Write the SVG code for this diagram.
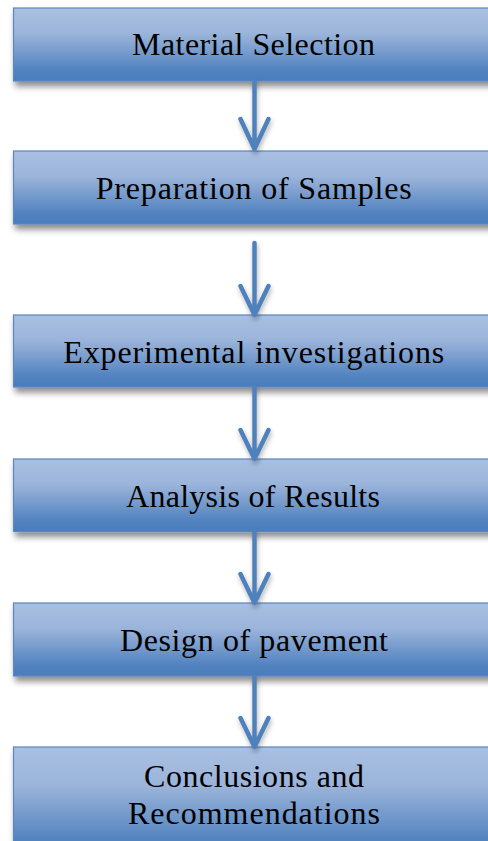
<svg xmlns="http://www.w3.org/2000/svg" width="488" height="841" viewBox="0 0 488 841">
  <defs>
    <linearGradient id="boxFill" x1="0" y1="0" x2="0" y2="1">
      <stop offset="0" stop-color="#a9c0e1"/>
      <stop offset="0.35" stop-color="#9bb4da"/>
      <stop offset="0.85" stop-color="#5283c0"/>
      <stop offset="1" stop-color="#4a7dbb"/>
    </linearGradient>
    <filter id="boxShadow" x="-5%" y="-20%" width="110%" height="150%">
      <feGaussianBlur in="SourceAlpha" stdDeviation="3"/>
      <feOffset dx="2" dy="5" result="blur"/>
      <feComponentTransfer in="blur" result="soft">
        <feFuncA type="linear" slope="0.45"/>
      </feComponentTransfer>
      <feMerge>
        <feMergeNode in="soft"/>
        <feMergeNode in="SourceGraphic"/>
      </feMerge>
    </filter>
    <filter id="arrowShadow" x="-50%" y="-20%" width="200%" height="150%">
      <feGaussianBlur in="SourceAlpha" stdDeviation="2.5"/>
      <feOffset dx="1" dy="3" result="blur"/>
      <feComponentTransfer in="blur" result="soft">
        <feFuncA type="linear" slope="0.3"/>
      </feComponentTransfer>
      <feMerge>
        <feMergeNode in="soft"/>
        <feMergeNode in="SourceGraphic"/>
      </feMerge>
    </filter>
  </defs>
  <style>
    .box { fill: url(#boxFill); stroke: #5a86c1; stroke-width: 1.2; filter: url(#boxShadow); }
    .label { font-family: "Liberation Serif", "DejaVu Serif", serif; font-size: 32px; fill: #000000; text-anchor: middle; }
    .flow { fill: none; stroke: #4f81bd; stroke-width: 4.5; stroke-linecap: round; stroke-linejoin: round; filter: url(#arrowShadow); }
  </style>

  <rect width="488" height="841" fill="#ffffff"/>

  <g id="material-selection">
    <rect class="box" x="13.5" y="8" width="482" height="73"/>
    <text class="label" x="253.5" y="55" textLength="243">Material Selection</text>
  </g>

  <g id="preparation-of-samples">
    <rect class="box" x="13.5" y="151" width="482" height="73"/>
    <text class="label" x="253.7" y="198.5" textLength="316">Preparation of Samples</text>
  </g>

  <g id="experimental-investigations">
    <rect class="box" x="13.5" y="315" width="482" height="72"/>
    <text class="label" x="253.8" y="362.5" textLength="381">Experimental investigations</text>
  </g>

  <g id="analysis-of-results">
    <rect class="box" x="13.5" y="459" width="482" height="72.5"/>
    <text class="label" x="253" y="506.5" textLength="254">Analysis of Results</text>
  </g>

  <g id="design-of-pavement">
    <rect class="box" x="13.5" y="603" width="482" height="73"/>
    <text class="label" x="254" y="651" textLength="268">Design of pavement</text>
  </g>

  <g id="conclusions-and-recommendations">
    <rect class="box" x="13.5" y="747" width="482" height="110"/>
    <text class="label" x="254" y="787" textLength="220">Conclusions and</text>
    <text class="label" x="254" y="824" textLength="252">Recommendations</text>
  </g>

  <g id="connectors">
    <path class="flow" d="M254.5 81 V149 M240.5 119 L254.5 149 L268.5 119"/>
    <path class="flow" d="M254.5 243 V315 M240.5 286 L254.5 315 L268.5 286"/>
    <path class="flow" d="M254.5 387 V459 M240.5 430 L254.5 459 L268.5 430"/>
    <path class="flow" d="M254.5 531.5 V603 M240.5 574 L254.5 603 L268.5 574"/>
    <path class="flow" d="M254.5 676 V747 M240.5 718 L254.5 747 L268.5 718"/>
  </g>
</svg>
